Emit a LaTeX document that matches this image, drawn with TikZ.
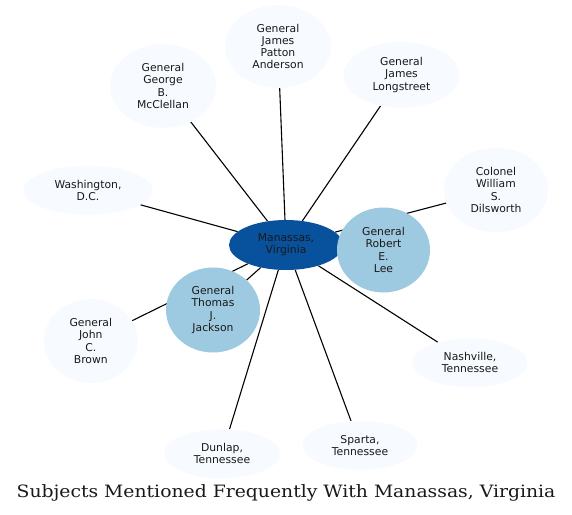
\documentclass[tikz,border=0pt]{standalone}
\usepackage{fontspec}
\setmainfont{DejaVu Sans}
\newfontfamily\titlefont{DejaVu Serif}
\usetikzlibrary{shapes.geometric}
\pgfdeclarelayer{bg}
\pgfsetlayers{bg,main}
\definecolor{hubblue}{HTML}{08519C}
\definecolor{midblue}{HTML}{9ECAE1}
\definecolor{paleblue}{HTML}{F7FBFF}
\tikzset{
  ent/.style={ellipse, inner sep=0pt, align=center, font=\fontsize{10.8}{12.2}\selectfont, text=black!90},
  hubnode/.style={ent, fill=hubblue},
  mainnode/.style={ent, fill=midblue},
  leafnode/.style={ent, fill=paleblue},
  link/.style={draw=black, line width=1.1pt}
}
\begin{document}
\begin{tikzpicture}[x=1pt,y=-1pt]
\useasboundingbox (0,0) rectangle (572,514);
\node[hubnode, minimum width=114pt, minimum height=50pt] (hub) at (286,245) {Manassas,\\Virginia};
\node[mainnode, minimum width=93pt, minimum height=85pt] (lee) at (383.5,250) {General\\Robert\\E.\\Lee};
\node[mainnode, minimum width=94pt, minimum height=85pt] (jackson) at (213,310) {General\\Thomas\\J.\\Jackson};
\node[leafnode, minimum width=106pt, minimum height=83pt] (anderson) at (278,46.5) {General\\James\\Patton\\Anderson};
\node[leafnode, minimum width=106pt, minimum height=84pt] (mcclellan) at (163,86) {General\\George\\B.\\McClellan};
\node[leafnode, minimum width=116pt, minimum height=66pt] (longstreet) at (401.5,75) {General\\James\\Longstreet};
\node[leafnode, minimum width=129pt, minimum height=49pt] (washington) at (88,190.3) {Washington,\\D.C.};
\node[leafnode, minimum width=104pt, minimum height=85pt] (dilsworth) at (496,190) {Colonel\\William\\S.\\Dilsworth};
\node[leafnode, minimum width=94pt, minimum height=84pt] (brown) at (90.8,341) {General\\John\\C.\\Brown};
\node[leafnode, minimum width=115pt, minimum height=49pt] (nashville) at (470,362.8) {Nashville,\\Tennessee};
\node[leafnode, minimum width=115pt, minimum height=49pt] (sparta) at (360,445.3) {Sparta,\\Tennessee};
\node[leafnode, minimum width=116pt, minimum height=49pt] (dunlap) at (222,453.7) {Dunlap,\\Tennessee};
\node[font=\titlefont\fontsize{17}{19}\selectfont, text=black!90] (title) at (286,492.5) {\scalebox{1.105}[1]{Subjects Mentioned Frequently With Manassas, Virginia}};
\begin{pgfonlayer}{bg}
\foreach \t in {lee,jackson,anderson,mcclellan,longstreet,washington,dilsworth,brown,nashville,sparta,dunlap}
  \draw[link] (hub) -- (\t);
\end{pgfonlayer}
\end{tikzpicture}
\end{document}
